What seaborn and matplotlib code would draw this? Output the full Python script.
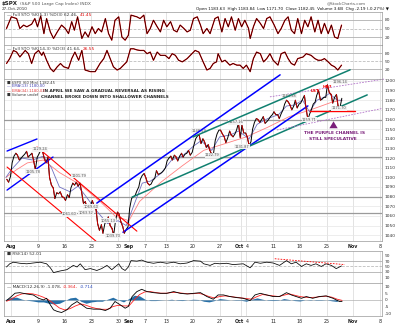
import numpy as np
import pandas as pd
import seaborn as sns
import matplotlib
matplotlib.use("Agg")
import matplotlib.pyplot as plt

# ---------------- data ----------------
# x axis = trading-day index, Aug 2 2010 = 0
tick_days = [0, 5, 10, 15, 20, 22, 25, 29, 34, 39, 43, 44, 49, 54, 59, 64, 69]
tick_labels = ["Aug", "9", "16", "23", "30", "Sep", "7", "13", "20", "27",
               "Oct", "4", "11", "18", "25", "Nov", "8"]
tick_label_pos = [0, 5, 10, 15, 20, 22, 25, 29, 34, 39, 42.6, 44.1, 49, 54, 59, 64, 69]

sto5_day = [-0.9, 0, 1, 1.6, 2.3, 2.9, 3.8, 4.4, 4.9, 5.5,
            6.1, 6.6, 7.3, 7.9, 8.6, 9.4, 10.1, 10.7, 11.3, 11.8,
            12.4, 13.2, 13.8, 14.4, 15.1, 15.7, 16.3, 16.9, 17.6, 18.2,
            18.8, 19.4, 20.1, 20.7, 21.3, 21.9, 22.4, 23.5, 24.1, 24.8,
            25.4, 26, 26.6, 27.3, 27.9, 28.5, 29.1, 29.8, 30.4, 31,
            31.6, 32.3, 32.9, 33.5, 34.1, 34.8, 35.4, 35.9, 36.6, 37.2,
            38.1, 38.7, 39.4, 40, 40.6, 41.2, 41.9, 42.5, 43.1, 43.7,
            44.4, 44.7, 45.3, 45.9, 46.6, 47.2, 47.8, 48.4, 49.2, 49.9,
            50.5, 51.2, 51.8, 52.4, 53, 53.6, 54.3, 54.9, 55.5, 56.1,
            56.8, 57.4, 58, 58.6, 59.3, 59.9, 60.5, 61.1, 61.8]
sto5_k = [50, 91, 85, 50, 62, 56, 65, 85, 56, 94,
          32, 85, 38, 15, 38, 62, 50, 32, 74, 44,
          91, 15, 38, 20, 56, 32, 50, 38, 85, 32,
          9, 79, 91, 20, 9, 26, 97, 91, 85, 97,
          32, 50, 79, 56, 38, 79, 56, 74, 44, 38,
          62, 50, 38, 44, 85, 91, 62, 32, 50, 32,
          85, 91, 38, 85, 56, 91, 44, 85, 56, 79,
          50, 15, 56, 85, 68, 50, 85, 91, 62, 32,
          50, 79, 91, 44, 32, 85, 32, 79, 56, 91,
          38, 79, 32, 68, 32, 62, 20, 15, 62]

sto14_day = [-0.9, -0.3, 0.4, 1, 1.6, 2.6, 3.2, 3.8, 4.4, 5.1,
             5.7, 6, 6.6, 7.3, 7.9, 8.6, 9.2, 9.8, 10.7, 11.3,
             11.9, 12.6, 13.2, 13.8, 14.8, 15.7, 16.6, 17.3, 17.9, 18.5,
             19.1, 19.8, 20.4, 21, 21.6, 22.3, 22.9, 23.5, 24.1, 24.8,
             25.4, 26, 26.6, 27.3, 27.9, 28.8, 29.5, 30.1, 30.7, 31.3,
             32, 32.9, 33.8, 34.4, 35.1, 35.9, 36.6, 37.2, 37.8, 38.4,
             38.7, 39.4, 40, 40.9, 41.5, 42.2, 42.8, 43.4, 44, 44.7,
             45.3, 45.9, 46.6, 47.2, 47.8, 48.4, 49, 49.9, 50.5, 51.2,
             51.8, 52.4, 53, 53.6, 54.6, 55.2, 56.1, 56.8, 57.4, 58,
             58.6, 59.3, 59.9, 60.5, 61.1, 61.8]
sto14_k = [42, 60, 90, 84, 66, 90, 78, 42, 78, 90,
           72, 84, 54, 24, 12, 30, 42, 30, 24, 60,
           84, 54, 90, 18, 12, 12, 42, 60, 90, 60,
           30, 18, 24, 36, 48, 96, 96, 92, 90, 90,
           78, 84, 54, 84, 72, 72, 60, 78, 72, 54,
           48, 60, 78, 90, 84, 48, 18, 24, 42, 48,
           78, 48, 54, 36, 42, 36, 36, 24, 36, 12,
           60, 84, 78, 48, 60, 78, 54, 36, 78, 84,
           60, 42, 36, 60, 66, 78, 72, 60, 54, 54,
           60, 48, 36, 30, 18, 36]

price_days = list(range(-1, 62))
price_open = [1098, 1115, 1123, 1122, 1121, 1118, 1124, 1120, 1100, 1078,
              1085, 1076, 1089, 1095, 1085, 1068, 1076, 1052, 1042, 1059,
              1040, 1062, 1042, 1068, 1081, 1098, 1100, 1093, 1107, 1105,
              1117, 1118, 1117, 1121, 1128, 1133, 1144, 1137, 1128, 1138,
              1149, 1136, 1144, 1149, 1154, 1142, 1150, 1160, 1163, 1160,
              1168, 1161, 1176, 1175, 1180, 1177, 1172, 1170, 1185, 1181,
              1196, 1177, 1174]
price_mid = [1095, 1122, 1118, 1124, 1123, 1108, 1128, 1115, 1092, 1084,
             1080, 1082, 1094, 1091, 1073, 1072, 1070, 1045, 1052, 1050,
             1055, 1054, 1046, 1078, 1086, 1102, 1094, 1097, 1103, 1107,
             1120, 1123, 1122, 1124, 1123, 1140, 1135, 1131, 1124, 1145,
             1145, 1141, 1142, 1156, 1146, 1133, 1157, 1157, 1156, 1163,
             1165, 1166, 1180, 1170, 1172, 1181, 1160, 1176, 1190, 1183,
             1188, 1183, 1172]
price_close = [1101, 1125, 1120, 1127, 1125, 1121, 1127, 1121, 1089, 1083,
               1079, 1079, 1092, 1094, 1075, 1071, 1067, 1051, 1055, 1047,
               1064, 1049, 1049, 1080, 1090, 1104, 1092, 1099, 1104, 1110,
               1122, 1121, 1125, 1125, 1126, 1143, 1140, 1134, 1125, 1149,
               1142, 1148, 1145, 1141, 1146, 1137, 1161, 1160, 1158, 1165,
               1165, 1170, 1178, 1174, 1176, 1185, 1166, 1178, 1180, 1183,
               1186, 1186, 1182]

ema13_day = [-1, 0, 2, 4, 6, 7.5, 9, 11, 12.5, 14, 16, 18, 20, 21.5, 23, 24.5, 26, 28, 30, 32,
             34, 35.5, 37.5, 39, 41, 42.5, 44.5, 46, 48, 50, 51.5, 53, 54.5, 55.8, 57.2, 58.5,
             59.5, 61, 61.9]
ema13_val = [1100, 1108, 1120, 1118, 1122, 1110, 1090, 1085, 1091, 1080, 1065, 1052, 1055, 1050,
             1072, 1094, 1096, 1104, 1118, 1122, 1132, 1138, 1128, 1142, 1144, 1148, 1140, 1155,
             1161, 1165, 1174, 1175, 1180, 1168, 1180, 1183, 1187, 1180, 1180]
ema34_day = [-1, 1, 3, 6, 9, 13, 16.6, 19.4, 22, 24, 28, 32, 36, 40, 44, 48, 52, 56, 60, 61.9]
ema34_val = [1100, 1108, 1115, 1118, 1105, 1092, 1075, 1060, 1055, 1075, 1095, 1112, 1128, 1135,
             1142, 1152, 1163, 1170, 1178, 1180]

rsi_day = [-0.9, -0.3, 0.4, 1.6, 2.9, 4.1, 5.4, 6.6, 7.3, 7.9,
           9.1, 10.4, 11.6, 12.3, 12.9, 13.8, 14.8, 16, 16.9, 17.9,
           18.8, 19.4, 20.1, 20.7, 21.3, 21.9, 22.4, 23.5, 24.4, 25.4,
           26.6, 27.9, 29.1, 30.4, 31.6, 32.9, 34.1, 35.4, 36, 37.2,
           38.1, 39, 40.3, 41.5, 43.4, 44.7, 45.6, 46.6, 47.8, 49,
           50.2, 51.5, 52.4, 53.3, 54.3, 55.2, 56.1, 57, 58, 58.9,
           59.9, 60.8, 61.8]
rsi_val = [48, 60, 66, 62, 60, 63, 66, 60, 45, 27,
           33, 38, 54, 48, 60, 38, 42, 35, 42, 54,
           38, 48, 60, 42, 35, 48, 72, 70, 74, 66,
           62, 66, 62, 66, 60, 63, 72, 70, 60, 54,
           62, 60, 62, 57, 60, 45, 66, 62, 66, 63,
           54, 72, 60, 66, 50, 60, 54, 60, 50, 60,
           54, 42, 52]

macd_day = [-0.9, 0, 0.7, 1.6, 2.9, 4.1, 5.1, 6, 6.6, 7.3,
            7.9, 8.6, 9.4, 10.4, 11.3, 12.3, 13.2, 14.1, 15.4, 16.6,
            17.6, 18.5, 19.4, 20.4, 21.3, 21.9, 22.6, 23.5, 24.4, 25.4,
            26.6, 27.9, 29.1, 30.4, 31.6, 32.9, 34.1, 35.4, 36.6, 37.8,
            38.7, 39.7, 40.9, 42.2, 43.4, 44.7, 45.6, 46.6, 47.8, 49,
            50.2, 51.5, 52.4, 53.3, 54.3, 55.2, 56.4, 57.6, 58.9, 60.2,
            61.4, 61.9]
macd_val = [-0.5, 2.5, 5, 5.4, 4.4, 3.7, 1.2, 0, 1.2, -3.7,
            -7.4, -8.6, -9.4, -7.4, -3.7, -1.2, -3.7, -6.2, -6.9, -6.9,
            -7.9, -6.2, -1.2, -3.7, -6.2, -4.9, 2.5, 6.2, 7.9, 6.2,
            5.4, 4.9, 4.9, 6.2, 4.9, 4.4, 4.9, 5.4, 2.5, 0.5,
            3.7, 3.7, 2.5, 1.7, 1.2, -0.5, 3.7, 4.9, 3.7, 2.5,
            2.5, 5.4, 3.7, 2.5, 1.2, 2.5, 1.2, 2.5, 3, 1.2,
            -1.2, -1.1]
sig_day = [-0.9] + list(range(0, 62)) + [61.9]
sig_val = [-1,
           0.5, 3, 4.5, 4.8, 4.5, 3.5, 2, 0, -3, -6,
           -7.5, -6.5, -4.5, -3, -4, -5.5, -6.5, -7, -7, -5,
           -4, -4.5, -4.5, 0, 4, 6, 6.2, 5.5, 5, 5,
           5.5, 5.5, 5, 4.6, 4.6, 5, 4, 2.5, 1.5, 2.5,
           3, 2.5, 2, 1.5, 1, 0.5, 2.5, 4, 3.5, 3,
           2.5, 3.5, 4.5, 3.5, 2.5, 2, 1.8, 2, 2.5, 2.8,
           2, 0.5, -0.36]
hist_day = list(range(-1, 62))
hist_val = [0.5,
            2, 2, 0.5, -0.3, -0.8, -1.5, -1.5, -2.5, -3, -2.5,
            -0.5, 1.5, 2, -1, -2.5, -1.5, -1, -1, 0.5, 2,
            0, -1.5, 1, 3.5, 3, 0.5, -0.5, -0.5, -0.2, 0,
            0.5, -0.3, -0.5, 0, 0.5, 0.3, -1, -1.5, -0.5, 1,
            0.5, 0, -0.3, -0.3, -1, 0.5, 1.5, 0.5, -0.3, -0.5,
            -0.3, 1, 0.3, -0.5, -0.8, 0, -0.3, 0.3, 0.3, 0,
            -0.7, -1.2]

# analyst trend lines: ([day0, day1], [price0, price1])
blue_short_top = ([-0.8, 4.8], [1127.3, 1139.8])
blue_short_bot = ([-0.8, 7.8], [1086.8, 1121.1])
red_top = ([4.8, 23.5], [1131.5, 1044.2])
red_bot = ([-0.8, 15.85], [1110.7, 1033.8])
blue_up_top = ([16.0, 50.3], [1073.3, 1206.3])
blue_up_bot = ([20.9, 55.5], [1043.1, 1174.1])
green_bot = ([22.6, 66.6], [1079.5, 1185.5])
green_top = ([34.0, 63.4], [1141.9, 1211.5])
purple_top = ([48.4, 69.9], [1183.5, 1202.0])
purple_bot = ([49.7, 69.9], [1149.1, 1172.0])
red_flat = ([55.9, 64.3], [1168.9, 1168.9])
gray_levels = [1160, 1121, 1080, 1063]
rsi_trend = ([49.3, 62.4], [79, 57])

price_labels = [(5.4, 1129.24, "1129.24"), (4.0, 1105.78, "1105.78"), (12.6, 1101.79, "1101.79"),
                (14.9, 1069.60, "1069.60"), (10.9, 1061.60, "1061.60"), (14.0, 1063.32, "1063.32"),
                (18.2, 1055.13, "1055.13"), (19.0, 1039.70, "1039.70"), (35.1, 1148.59, "1148.59"),
                (42.0, 1157.16, "1157.16"), (37.6, 1122.79, "1122.79"), (43.2, 1131.87, "1131.87"),
                (52.0, 1184.38, "1184.38"), (61.6, 1199.0, "1196.14"), (55.8, 1159.71, "1159.71"),
                (61.3, 1171.70, "1171.70")]

# ---------------- figure ----------------
W, H = 400, 323
sns.set_style("white")
plt.rcParams["font.family"] = ["DejaVu Sans"]
fig = plt.figure(figsize=(W / 100, H / 100), dpi=100)

def add_ax(l, t, r, b):
    return fig.add_axes([l / W, 1 - b / H, (r - l) / W, (b - t) / H])

def ptxt(x, y, s, **kw):
    kw.setdefault("va", "center")
    return fig.text(x / W, 1 - y / H, s, **kw)

XL = (-1.37, 69.37)
GRID = "#d8d8d8"
FRAME = "#999999"

def style(ax, ylim, yticks, ylabels=None):
    ax.set_xlim(*XL)
    ax.set_ylim(*ylim)
    ax.set_xticks([])
    ax.yaxis.tick_right()
    ax.set_yticks(yticks)
    ax.set_yticklabels(ylabels if ylabels else [str(v) for v in yticks])
    ax.tick_params(axis="y", length=0, pad=2, labelsize=3.2, labelcolor="#333333")
    for s in ax.spines.values():
        s.set_color(FRAME)
        s.set_linewidth(0.5)
    for d in tick_days:
        ax.axvline(d, color=GRID, lw=0.5, zorder=0)
    ax.set_xlabel("")
    ax.set_ylabel("")

ax1 = add_ax(4, 12, 382, 45)
ax2 = add_ax(4, 45, 382, 79)
ax3 = add_ax(4, 79, 382, 241)
ax4 = add_ax(4, 251, 382, 283)
ax5 = add_ax(4, 283, 382, 316)

# stochastics
for ax, days, vals, ylim in [(ax1, sto5_day, sto5_k, (-8, 108)), (ax2, sto14_day, sto14_k, (-15, 110))]:
    style(ax, ylim, [20, 50, 80])
    ax.axhline(80, color="#b0b0b0", lw=0.6, zorder=0)
    ax.axhline(20, color="#b0b0b0", lw=0.6, zorder=0)
    ax.axhline(50, color="#b0b0b0", lw=0.5, ls=(0, (4, 2)), zorder=0)
    sns.lineplot(x=days, y=vals, ax=ax, color="#dd0000", lw=0.9, estimator=None, sort=False)
    sns.lineplot(x=days, y=vals, ax=ax, color="black", lw=0.4, estimator=None, sort=False)
    ax.set_xlabel(""); ax.set_ylabel("")

# main price panel
style(ax3, (1034, 1202), list(range(1040, 1201, 10)))
for v in range(1040, 1201, 10):
    ax3.axhline(v, color="#e6e6e6", lw=0.5, zorder=0)
for v in gray_levels:
    ax3.axhline(v, color="#9a9a9a", lw=0.9, zorder=1)

sns.lineplot(x=ema34_day, y=ema34_val, ax=ax3, color="#ff8080", lw=0.6, estimator=None, sort=False)
sns.lineplot(x=ema13_day, y=ema13_val, ax=ax3, color="#7070c0", lw=0.6, estimator=None, sort=False)

px, py = [], []
for d, o, m, c in zip(price_days, price_open, price_mid, price_close):
    px += [d + 0.15, d + 0.5, d + 0.85]
    py += [o, m, c]
sns.lineplot(x=px, y=py, ax=ax3, color="black", lw=0.7, estimator=None, sort=False)
for i in range(len(px) - 1):
    if py[i + 1] < py[i]:
        ax3.plot(px[i:i + 2], py[i:i + 2], color="#cc0000", lw=0.7, zorder=3)

def tline(ax, seg, **kw):
    ax.plot(seg[0], seg[1], **kw)

tline(ax3, blue_short_top, color="#0000ff", lw=1.0)
tline(ax3, blue_short_bot, color="#0000ff", lw=1.0)
tline(ax3, red_top, color="#ff0000", lw=0.8)
tline(ax3, red_bot, color="#ff0000", lw=0.8)
tline(ax3, blue_up_top, color="#0000ff", lw=1.1, clip_on=False, zorder=5)
tline(ax3, blue_up_bot, color="#0000ff", lw=1.1)
tline(ax3, green_bot, color="#108070", lw=1.1)
tline(ax3, green_top, color="#108070", lw=1.1, clip_on=False, zorder=5)
tline(ax3, purple_top, color="#b070c8", lw=0.6, ls=(0, (2, 1.5)), clip_on=False)
tline(ax3, purple_bot, color="#b070c8", lw=0.6, ls=(0, (2, 1.5)))
tline(ax3, red_flat, color="#ff0000", lw=1.0)

ax3.annotate("", xy=(60.3, 1161), xytext=(60.3, 1152),
             arrowprops=dict(arrowstyle="simple,head_width=0.6,head_length=0.5,tail_width=0.3",
                             color="#7a1f7a", lw=0))
for d, p, s in price_labels:
    ax3.text(d, p, s, fontsize=2.6, color="#555555", ha="center", va="center",
             bbox=dict(boxstyle="square,pad=0.1", fc="#f2f2f2", ec="none"))
ax3.text(56.9, 1189.5, "LST", fontsize=3.2, color="#ee0000", ha="center", va="center", weight="bold")
ax3.text(59.2, 1193.5, "HS?", fontsize=3.2, color="#ee0000", ha="center", va="center", weight="bold")

ptxt(104, 91, "IN APRIL WE SAW A GRADUAL REVERSAL AS RISING", fontsize=3.1, ha="center", weight="bold")
ptxt(105, 97.5, "CHANNEL BROKE DOWN INTO SHALLOWER CHANNELS", fontsize=3.1, ha="center", weight="bold")
ptxt(335, 133, "THE PURPLE CHANNEL IS", fontsize=3.2, ha="center", color="#7a1f7a", weight="bold")
ptxt(333, 139.5, "STILL SPECULATIVE", fontsize=3.2, ha="center", color="#7a1f7a", weight="bold")

# RSI
style(ax4, (-12, 108), [10, 30, 50, 70, 90])
ax4.axhline(70, color="#b0b0b0", lw=0.6, zorder=0)
ax4.axhline(30, color="#b0b0b0", lw=0.6, zorder=0)
ax4.axhline(50, color="#b0b0b0", lw=0.5, ls=(0, (4, 2)), zorder=0)
sns.lineplot(x=rsi_day, y=rsi_val, ax=ax4, color="black", lw=0.55, estimator=None, sort=False)
tline(ax4, rsi_trend, color="#ff0000", lw=0.6, ls=(0, (2, 1.5)))
ax4.set_xlabel(""); ax4.set_ylabel("")

# MACD
style(ax5, (-12, 12.6), [-10, -5, 0, 5, 10])
ax5.axhline(0, color="#b0b0b0", lw=0.5, zorder=0)
ax5.fill_between(hist_day, 0, hist_val, color="#2870a8", lw=0, zorder=1)
sns.lineplot(x=sig_day, y=sig_val, ax=ax5, color="#ff2020", lw=0.6, estimator=None, sort=False)
sns.lineplot(x=macd_day, y=macd_val, ax=ax5, color="black", lw=0.6, estimator=None, sort=False)
ax5.set_xlabel(""); ax5.set_ylabel("")

# x labels (between price & RSI and at bottom)
for ax in (ax3, ax5):
    for pos, lab in zip(tick_label_pos, tick_labels):
        bold = lab in ("Aug", "Sep", "Oct", "Nov")
        ax.annotate(lab, xy=(pos, 0), xycoords=("data", "axes fraction"), xytext=(0, -2.2),
                    textcoords="offset points", ha="center", va="top", fontsize=3.4,
                    weight="bold" if bold else "normal", color="#222222", annotation_clip=False)

# header & legends
ptxt(2, 3.5, "$SPX", fontsize=4.0, weight="bold")
ptxt(20, 3.5, "(S&P 500 Large Cap Index) INDX", fontsize=3.2, color="#555555")
ptxt(2, 9, "27-Oct-2010", fontsize=3.0, color="#333333")
ptxt(366, 3.5, "@StockCharts.com", fontsize=3.0, color="#555555", ha="right")
ptxt(196, 9, "Open 1183.63  High 1183.84  Low 1171.70  Close 1182.45  Volume 3.6B  Chg -2.19 (-0.27%) \u25bc",
     fontsize=3.0, color="#111111")

def legend(x, y, parts, size=3.1):
    t = ptxt(x, y, parts[0][0], fontsize=size, color=parts[0][1])
    for s, c in parts[1:]:
        t = plt.annotate(s, xy=(1, 0), xycoords=t, xytext=(1.5, 0), textcoords="offset points",
                         fontsize=size, color=c, va="bottom", ha="left")
    return t

legend(7, 15, [("\u2014 Full STO %K(5,3) %D(3) 62.46,", "#333333"), ("41.45", "#dd0000")])
legend(7, 48.5, [("\u2014 Full STO %K(14,3) %D(3) 41.64,", "#333333"), ("26.55", "#dd0000")])
ptxt(7, 82, "\u25a0 $SPX (60 Min) 1182.45", fontsize=2.7, color="#333333")
ptxt(7, 86.3, "\u2014 EMA(13) 1180.00", fontsize=2.7, color="#4040b0")
ptxt(7, 90.6, "\u2014 EMA(34) 1180.03", fontsize=2.7, color="#ee4444")
ptxt(7, 94.9, "\u25a0 Volume undef", fontsize=2.7, color="#333333")
ptxt(7, 254, "\u25a0 RSI(14) 52.01", fontsize=3.1, color="#333333")
legend(7, 287, [("\u2014 MACD(12,26,9) -1.078,", "#333333"), ("-0.364,", "#ee2020"), ("-0.714", "#3050c0")])

fig.savefig("out.png", dpi=100)
